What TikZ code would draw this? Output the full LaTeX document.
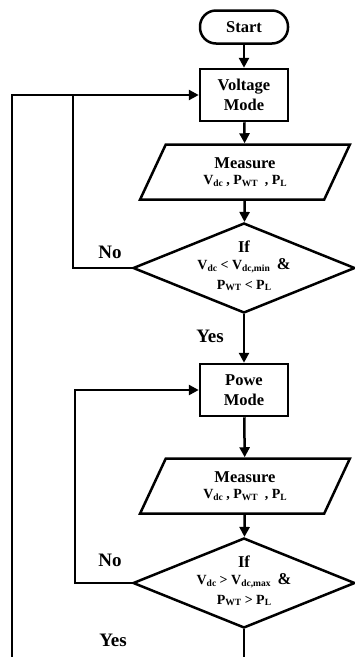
\documentclass[tikz,border=0pt]{standalone}
\usepackage{fontspec}
\setmainfont{Liberation Serif}
\usetikzlibrary{shapes.geometric,arrows.meta}
\newcommand{\sbs}[1]{\raisebox{-0.3ex}{\fontsize{9.5}{10}\selectfont #1}}
\begin{document}
\begin{tikzpicture}[x=1pt,y=1pt,
  ln/.style={line width=2.5pt, draw=black},
  arr/.style={ln, -{Triangle[length=10pt,width=10pt]}},
  term/.style={ln, rectangle, rounded corners=16pt, minimum width=88pt, minimum height=33pt, font=\bfseries\fontsize{16.5}{16.5}\selectfont},
  procbox/.style={ln, rectangle, minimum width=88pt, minimum height=52pt, align=center, font=\bfseries\fontsize{16.5}{20}\selectfont},
  iobox/.style={ln, trapezium, trapezium left angle=65, trapezium right angle=115, trapezium stretches=true, minimum width=210pt, minimum height=55pt, inner sep=0pt, align=center, font=\bfseries},
  decbox/.style={ln, diamond, minimum width=222pt, minimum height=90pt, inner sep=0pt},
  dectext/.style={align=center, font=\bfseries},
  lbl/.style={font=\bfseries\fontsize{19}{19}\selectfont}
]
\useasboundingbox (0,0) rectangle (355,-657);

\node[term] (start) at (244,-27) {Start};
\node[procbox] (vm) at (244,-95) {Voltage\\Mode};
\node[iobox] (m1) at (245,-172) {{\fontsize{16.5}{16.5}\selectfont Measure}\\[4pt]{\fontsize{14}{15}\selectfont V\sbs{dc} , P\sbs{WT}~~, P\sbs{L}}};
\node[decbox] (d1) at (244,-268) {};
\node[dectext] (d1t) at ([yshift=2pt]d1.center) {{\fontsize{16.5}{16.5}\selectfont If}\\[5pt]{\fontsize{14}{15}\selectfont V\sbs{dc} < V\sbs{dc,min}~~{\fontsize{16.5}{15}\selectfont\&}}\\[6pt]{\fontsize{14}{15}\selectfont P\sbs{WT} < P\sbs{L}}};
\node[procbox] (pm) at (244,-390) {Powe\\Mode};
\node[iobox] (m2) at (245,-486) {{\fontsize{16.5}{16.5}\selectfont Measure}\\[4pt]{\fontsize{14}{15}\selectfont V\sbs{dc} , P\sbs{WT}~~, P\sbs{L}}};
\node[decbox] (d2) at (244,-583) {};
\node[dectext] (d2t) at ([yshift=2pt]d2.center) {{\fontsize{16.5}{16.5}\selectfont If}\\[5pt]{\fontsize{14}{15}\selectfont V\sbs{dc} > V\sbs{dc,max}~~{\fontsize{16.5}{15}\selectfont\&}}\\[6pt]{\fontsize{14}{15}\selectfont P\sbs{WT} > P\sbs{L}}};

\node[lbl] (no1) at (110,-252) {No};
\node[lbl] (yes1) at (210,-336) {Yes};
\node[lbl] (no2) at (110,-560) {No};
\node[lbl] (yes2) at (113,-640) {Yes};

\coordinate (k1) at (73,0);
\coordinate (k2) at (75,0);
\coordinate (o1) at (12,-660);
\coordinate (e2) at (244,-660);

\draw[arr] (start) -- (vm);
\draw[arr] (vm) -- (m1);
\draw[arr] (m1) -- (d1);
\draw[arr] (d1) -- (pm);
\draw[arr] (pm) -- (m2);
\draw[arr] (m2) -- (d2);
\draw[ln] (d2.south) -- (e2);
\draw[ln] (o1) |- (k1 |- vm.west);
\draw[arr] (d1.west) -| (k1 |- vm.west) -- (vm.west);
\draw[arr] (d2.west) -| (k2 |- pm.west) -- (pm.west);
\end{tikzpicture}
\end{document}
